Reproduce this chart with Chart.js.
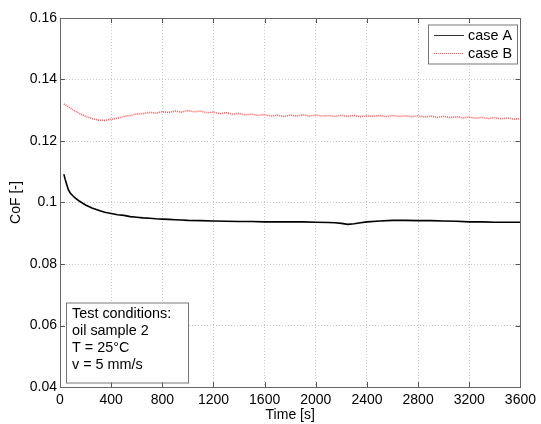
<!DOCTYPE html>
<html>
<head>
<meta charset="utf-8">
<script src="https://cdn.jsdelivr.net/npm/chart.js@4/dist/chart.umd.min.js"></script>
<style>
html,body{margin:0;padding:0;background:#fff;}
#wrap{position:relative;width:541px;height:424px;}
</style>
</head>
<body>
<div id="wrap"><canvas id="c" width="541" height="424"></canvas></div>
<script>
// ---- data ----
const timeA = [30,40,50,65,80,100,120,150,200,250,300,350,400,450,500,550,600,650,700,750,800,850,900,950,1000,1100,1200,1300,1400,1500,1600,1700,1800,1900,2000,2100,2150,2200,2250,2300,2350,2400,2500,2600,2700,2800,2900,3000,3100,3200,3300,3400,3500,3600];
const cofA  = [0.1092,0.1076,0.1062,0.1042,0.1031,0.1022,0.1014,0.1005,0.0992,0.0982,0.0975,0.0968,0.0964,0.0960,0.0958,0.0954,0.0952,0.0950,0.0949,0.0947,0.0946,0.0945,0.0944,0.0943,0.0942,0.0941,0.0940,0.0939,0.0938,0.0938,0.0937,0.0937,0.0937,0.0937,0.0936,0.0935,0.0934,0.0932,0.0929,0.0931,0.0934,0.0937,0.0940,0.0942,0.0942,0.0941,0.0941,0.0940,0.0939,0.0937,0.0937,0.0936,0.0936,0.0936];

const timeB = [30,50,75,100,125,150,175,200,250,300,350,400,450,500,550,600,650,700,750,800,850,900,950,1000,1050,1100,1150,1200,1250,1300,1350,1400,1450,1500,1550,1600,1650,1700,1750,1800,1850,1900,1950,2000,2050,2100,2150,2200,2250,2300,2350,2400,2450,2500,2550,2600,2650,2700,2750,2800,2850,2900,2950,3000,3050,3100,3150,3200,3250,3300,3350,3400,3450,3500,3550,3600];
const cofB  = [0.1320,0.1316,0.1309,0.1302,0.1296,0.1290,0.1285,0.1280,0.1273,0.1268,0.1267,0.1271,0.1274,0.1280,0.1283,0.1288,0.1289,0.1293,0.1291,0.1295,0.1293,0.1297,0.1294,0.1299,0.1295,0.1297,0.1292,0.1294,0.1289,0.1292,0.1287,0.1290,0.1285,0.1287,0.1283,0.1286,0.1281,0.1284,0.1280,0.1284,0.1281,0.1285,0.1281,0.1284,0.1281,0.1283,0.1280,0.1284,0.1280,0.1283,0.1279,0.1282,0.1280,0.1283,0.1279,0.1283,0.1280,0.1282,0.1279,0.1282,0.1278,0.1281,0.1277,0.1280,0.1276,0.1279,0.1275,0.1278,0.1274,0.1277,0.1273,0.1276,0.1272,0.1275,0.1271,0.1273];

const xTicks = [0,400,800,1200,1600,2000,2400,2800,3200,3600];
const yTicks = [0.04,0.06,0.08,0.1,0.12,0.14,0.16];
const seriesNames = ['case A','case B'];
const infoLines = ['Test conditions:','oil sample 2','T = 25°C','v = 5 mm/s'];

const FONT = 'Arial, "Liberation Sans", Helvetica, sans-serif';
const colA = '#000000';
const colB = '#ff5a5a';

const frame = {
  id:'frame',
  afterDraw(chart){
    const {ctx, chartArea:a, scales:{x,y}} = chart;
    ctx.save();
    // inner tick marks
    ctx.strokeStyle = '#555';
    ctx.lineWidth = 1;
    ctx.beginPath();
    xTicks.forEach(v=>{
      const px = Math.round(x.getPixelForValue(v))+0.5;
      ctx.moveTo(px,a.bottom); ctx.lineTo(px,a.bottom-5);
      ctx.moveTo(px,a.top); ctx.lineTo(px,a.top+5);
    });
    yTicks.forEach(v=>{
      const py = Math.round(y.getPixelForValue(v))+0.5;
      ctx.moveTo(a.left,py); ctx.lineTo(a.left+5,py);
      ctx.moveTo(a.right,py); ctx.lineTo(a.right-5,py);
    });
    ctx.stroke();
    // frame
    ctx.strokeStyle = '#666';
    ctx.strokeRect(Math.round(a.left)+0.5, Math.round(a.top)+0.5, Math.round(a.right-a.left), Math.round(a.bottom-a.top));

    // legend box
    const lx = 428, ly = 24.5, lw = 89, lh = 39;
    ctx.fillStyle = '#fff';
    ctx.fillRect(lx,ly,lw,lh);
    ctx.strokeStyle = '#777';
    ctx.strokeRect(lx+0.5,ly+0.5,lw,lh);
    ctx.font = '14.4px ' + FONT;
    ctx.textBaseline = 'middle';
    ctx.fillStyle = '#000';
    ctx.lineWidth = 1;
    ctx.strokeStyle = '#333';
    ctx.beginPath(); ctx.moveTo(434,35.5); ctx.lineTo(464,35.5); ctx.stroke();
    ctx.fillText(seriesNames[0], 468, 36);
    ctx.strokeStyle = colB;
    ctx.setLineDash([1,1]);
    ctx.beginPath(); ctx.moveTo(434,53.5); ctx.lineTo(464,53.5); ctx.stroke();
    ctx.setLineDash([]);
    ctx.fillText(seriesNames[1], 468, 54);

    // info box
    const bx = 66, by = 302.5, bw = 122, bh = 80;
    ctx.fillStyle = '#fff';
    ctx.fillRect(bx,by,bw,bh);
    ctx.strokeStyle = '#777';
    ctx.strokeRect(bx+0.5,by+0.5,bw,bh);
    ctx.fillStyle = '#000';
    ctx.font = '14.4px ' + FONT;
    infoLines.forEach((t,i)=> ctx.fillText(t, 72, 314.5 + i*16.7));
    ctx.restore();
  }
};

new Chart(document.getElementById('c'), {
  type:'line',
  data:{
    datasets:[
      {label:seriesNames[0], data: timeA.map((t,i)=>({x:t,y:cofA[i]})), borderColor:colA, borderWidth:1.6, pointRadius:0, tension:0},
      {label:seriesNames[1], data: timeB.map((t,i)=>({x:t,y:cofB[i]})), borderColor:colB, borderWidth:1.6, borderDash:[1,1], pointRadius:0, tension:0}
    ]
  },
  options:{
    responsive:false,
    animation:false,
    devicePixelRatio:1,
    layout:{padding:{top:18,right:20,left:0,bottom:0}},
    plugins:{legend:{display:false},tooltip:{enabled:false}},
    scales:{
      x:{
        type:'linear', min:0, max:3600,
        afterBuildTicks(s){ s.ticks = xTicks.map(v=>({value:v})); },
        afterFit(s){ s.height = 37; },
        grid:{color:'#c8c8c8', borderDash:[1,2], drawTicks:false, tickLength:0},
        border:{display:false, dash:[1,2]},
        ticks:{color:'#000', font:{family:FONT,size:14}, padding:5, maxRotation:0, autoSkip:false, callback:v=>String(v)},
        title:{display:true, text:'Time [s]', color:'#000', font:{family:FONT,size:14}, padding:{top:0,bottom:0}}
      },
      y:{
        type:'linear', min:0.04, max:0.16,
        afterBuildTicks(s){ s.ticks = yTicks.map(v=>({value:v})); },
        afterFit(s){ s.width = 60; },
        grid:{color:'#c8c8c8', borderDash:[1,2], drawTicks:false, tickLength:0},
        border:{display:false, dash:[1,2]},
        ticks:{color:'#000', font:{family:FONT,size:14}, padding:3, autoSkip:false, callback:v=>String(Number(v.toFixed(2)))},
        title:{display:true, text:'CoF [-]', color:'#000', font:{family:FONT,size:14}, padding:{top:8,bottom:0}}
      }
    }
  },
  plugins:[frame]
});
</script>
</body>
</html>
